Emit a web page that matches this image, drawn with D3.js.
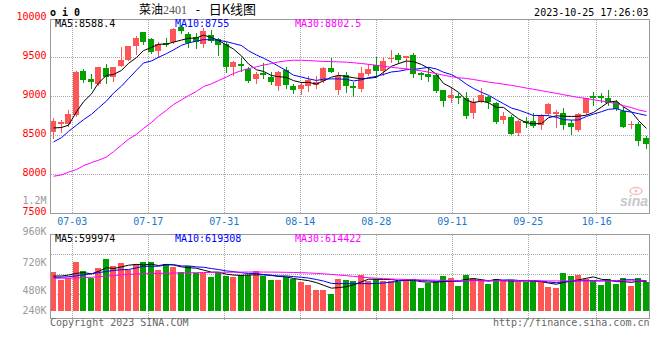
<!DOCTYPE html>
<html><head><meta charset="utf-8">
<script src="https://cdn.jsdelivr.net/npm/d3@7"></script>
<style>html,body{margin:0;padding:0;background:#fff}svg{display:block}</style>
</head><body>
<svg id="c" width="660" height="360"></svg>
<script>
const dates = ["06-28","06-29","06-30",
"07-03","07-04","07-05","07-06","07-07","07-10","07-11","07-12","07-13","07-14",
"07-17","07-18","07-19","07-20","07-21","07-24","07-25","07-26","07-27","07-28","07-31",
"08-01","08-02","08-03","08-04","08-07","08-08","08-09","08-10","08-11",
"08-14","08-15","08-16","08-17","08-18","08-21","08-22","08-23","08-24","08-25",
"08-28","08-29","08-30","08-31","09-01","09-04","09-05","09-06","09-07","09-08",
"09-11","09-12","09-13","09-14","09-15","09-18","09-19","09-20","09-21","09-22",
"09-25","09-26","09-27","09-28","10-09","10-10","10-11","10-12","10-13",
"10-16","10-17","10-18","10-19","10-20","10-23","10-24","10-25"];

const open = [8540,8641,8641,8761,9329,9222,9158,9359,9252,9393,
9470,9645,9821,9735,9585,9684,9692,9893,9799,9765,
9667,9786,9735,9675,9380,9415,9350,9222,9295,9252,
9132,9338,9132,9094,9132,9145,9197,9368,9081,9273,
9132,9094,9286,9402,9329,9474,9530,9496,9530,9295,
9286,9273,9081,8983,9008,8974,8790,8944,8996,8910,
8697,8735,8534,8688,8684,8632,8773,8778,8786,8662,
8568,8782,9004,9000,8983,8932,8812,8632,8650,8470];
const high = [8725,8697,8820,9325,9346,9282,9380,9410,9380,9632,
9648,9774,9825,9752,9700,9744,9870,9920,9829,9808,
9872,9850,9752,9700,9453,9496,9380,9308,9423,9308,
9320,9380,9154,9180,9265,9261,9380,9496,9316,9316,
9188,9380,9410,9509,9509,9594,9551,9520,9551,9316,
9380,9295,9085,9115,9038,9060,8983,9111,9004,8932,
8795,8761,8697,8739,8782,8769,8919,8825,8846,8697,
8790,8983,9060,9038,9081,8953,8867,8688,8667,8491];
const low = [8470,8538,8620,8745,9188,9111,9150,9167,9197,9390,
9465,9538,9667,9551,9500,9641,9680,9808,9637,9615,
9637,9690,9530,9316,9273,9325,9180,9167,9231,9154,
9081,9111,9047,9030,9068,9103,9184,9308,9030,9060,
9008,9068,9273,9265,9273,9444,9423,9359,9252,9218,
9197,9060,8880,8932,8919,8726,8718,8932,8855,8662,
8662,8513,8504,8611,8603,8581,8761,8611,8581,8521,
8556,8769,8889,8932,8889,8825,8605,8598,8376,8342];
const close = [8680,8675,8769,9316,9209,9188,9376,9252,9376,9470,
9641,9744,9701,9573,9675,9658,9863,9838,9680,9701,
9838,9710,9658,9380,9444,9393,9197,9286,9273,9188,
9316,9145,9085,9145,9210,9188,9368,9316,9265,9132,
9111,9295,9350,9325,9457,9496,9466,9517,9286,9273,
9252,9073,8940,9017,8974,8752,8923,9017,8923,8675,
8752,8521,8684,8662,8620,8761,8902,8803,8632,8611,
8773,8974,8974,8983,8919,8838,8611,8650,8432,8389];

const ma5 = [8594,8600,8630,8800,8930,9031,9172,9268,9280,9332,
9423,9497,9586,9626,9667,9670,9694,9721,9743,9748,
9784,9753,9717,9657,9606,9517,9414,9340,9319,9267,
9252,9242,9201,9176,9180,9155,9199,9245,9269,9254,
9238,9224,9231,9243,9308,9385,9419,9452,9444,9408,
9359,9280,9165,9111,9051,8951,8921,8937,8918,8858,
8858,8778,8711,8659,8648,8650,8726,8750,8744,8742,
8744,8759,8793,8863,8925,8938,8865,8800,8690,8588];
const ma10 = [8415,8470,8550,8630,8700,8770,8850,8940,9040,9131,
9227,9334,9427,9453,9500,9547,9595,9654,9684,9707,
9727,9724,9719,9700,9677,9651,9584,9529,9488,9437,
9385,9328,9271,9247,9224,9203,9220,9223,9223,9217,
9197,9212,9238,9256,9281,9312,9321,9341,9344,9358,
9372,9350,9309,9278,9229,9155,9101,9051,9014,8955,
8905,8849,8824,8788,8753,8754,8752,8730,8701,8695,
8697,8742,8771,8803,8833,8841,8812,8797,8777,8755];
const ma30 = [7975,7992,8027,8062,8110,8150,8180,8222,8290,8375,
8450,8512,8588,8665,8745,8822,8895,8955,9008,9063,
9125,9160,9202,9248,9292,9330,9355,9378,9400,9420,
9440,9455,9462,9462,9458,9452,9447,9444,9442,9437,
9430,9420,9410,9398,9385,9372,9362,9352,9340,9325,
9310,9290,9270,9252,9238,9228,9215,9198,9182,9168,
9155,9140,9125,9105,9090,9072,9055,9038,9020,9002,
8985,8972,8955,8940,8925,8905,8880,8855,8825,8803];

// volume in thousands
const volume = [797,632,680,1003,818,667,880,1065,921,983,
839,969,1003,1003,839,962,907,804,921,784,
770,694,804,715,694,735,735,818,715,632,
632,694,646,598,529,426,426,344,653,632,
612,735,612,653,612,612,598,653,653,467,
577,598,715,674,509,735,674,612,550,653,
612,632,591,591,591,591,488,467,777,715,
735,653,605,529,653,550,674,509,674,591];
const volMa5 = [715,715,735,770,786,760,810,887,870,903,
938,955,943,959,931,955,943,903,887,876,
837,795,795,753,735,728,737,739,739,727,
706,698,664,640,620,579,525,465,476,496,
533,595,649,649,645,645,617,626,626,597,
590,590,602,606,615,646,661,641,616,645,
620,612,608,616,603,599,570,546,583,608,
636,669,697,647,635,598,602,583,612,600];
const volMa10 = [690,690,700,720,740,760,785,810,830,845,
849,883,915,915,917,946,949,923,923,903,
896,869,849,820,806,783,766,767,746,731,
717,717,702,690,673,643,612,564,558,558,
556,560,557,562,571,589,606,637,637,621,
617,604,614,616,606,618,626,621,611,630,
633,637,624,616,624,610,591,577,599,606,
618,620,621,615,621,617,636,640,630,619];
const volMa30 = [668,670,672,676,682,690,700,712,725,738,
748,756,762,766,770,773,776,779,782,785,
787,789,791,793,795,796,797,797,797,796,
794,791,788,784,778,770,760,748,735,722,
708,694,680,670,661,653,647,642,638,635,
632,629,626,624,622,620,619,618,617,616,
615,615,614,614,614,614,614,614,614,614,
614,614,614,614,614,614,614,614,614,614];

const priceTicks = [10000, 9500, 9000, 8500, 8000, 7500];
const dateTicks = ["07-03","07-17","07-31","08-14","08-28","09-11","09-25","10-16"];
const volTickValues = [1200, 960, 720, 480, 240];
const volTickLabels = ["1.2M", "960K", "720K", "480K", "240K"];
const priceLegend = ["MA5:8588.4", "MA10:8755", "MA30:8802.5"];
const volLegend = ["MA5:599974", "MA10:619308", "MA30:614422"];

const MONO = "'DejaVu Sans Mono', 'Liberation Mono', monospace";
const RED = "#ff5555", GREEN = "#00a000", GRID = "#a8a8a8", BORDER = "#999";
const LEG_COLORS = ["#000000", "#0000ff", "#ff00ff"];

const svg = d3.select("#c");

const x = d3.scaleBand().domain(dates).range([49.5, 649.5]).paddingInner(0.2).paddingOuter(0.1);
const xTick = d3.scaleLinear().domain([0, dates.length]).range([49.5, 657.5]);
const y = d3.scaleLinear().domain([7500, 10000]).range([213.3, 18.3]);
const yv = d3.scaleLinear().domain([0, 1000]).range([310.7, 262.2]);
const yvLabel = d3.scaleLinear().domain([240, 480, 720, 960, 1200]).range([314, 294, 265.5, 234.5, 204]);
const yvGrid = d3.scaleLinear().domain([0, 4]).range([234.7, 314.7]);

const bw = Math.round(x.bandwidth());
const bx = d => Math.round(x(d));
const cx = d => Math.round(x(d)) + bw / 2;
const rows = dates.map((d, i) => ({d, i, o: open[i], h: high[i], l: low[i], c: close[i], v: volume[i]}));
const col = r => r.c >= r.o ? RED : GREEN;

// ---------- grids ----------
const grid = svg.append("g").attr("stroke", GRID).attr("stroke-dasharray", "1,1").attr("fill", "none");
dateTicks.forEach(t => {
  const gx = Math.floor(xTick(dates.indexOf(t))) + 0.5;
  grid.append("line").attr("x1", gx).attr("x2", gx).attr("y1", 20).attr("y2", 213);
  grid.append("line").attr("x1", gx).attr("x2", gx).attr("y1", 235).attr("y2", 320);
});
priceTicks.slice(1, -1).forEach(v => {
  const gy = Math.floor(y(v)) + 0.5;
  grid.append("line").attr("x1", 51).attr("x2", 649).attr("y1", gy).attr("y2", gy);
});
[1, 2, 3].forEach(k => {
  const gy = Math.floor(yvGrid(k)) + 0.5;
  grid.append("line").attr("x1", 51).attr("x2", 649).attr("y1", gy).attr("y2", gy);
});

// ---------- candles ----------
const cg = svg.append("g");
cg.selectAll("line.wick").data(rows).join("line")
  .attr("x1", r => cx(r.d) + 0.5).attr("x2", r => cx(r.d) + 0.5)
  .attr("y1", r => Math.round(y(r.h))).attr("y2", r => Math.round(y(r.l)) + 1)
  .attr("stroke", col).attr("stroke-width", 1);
cg.selectAll("rect.body").data(rows).join("rect")
  .attr("x", r => bx(r.d)).attr("width", bw)
  .attr("y", r => Math.round(y(Math.max(r.o, r.c))))
  .attr("height", r => Math.max(1, Math.round(y(Math.min(r.o, r.c))) - Math.round(y(Math.max(r.o, r.c)))))
  .attr("fill", col);

// ---------- price MAs ----------
const line = d3.line().x((v, i) => cx(dates[i]) + 0.5).y(v => y(v));
[ma5, ma10, ma30].forEach((arr, k) => {
  svg.append("path").attr("d", line(arr)).attr("fill", "none")
    .attr("stroke", LEG_COLORS[k]).attr("stroke-width", 1);
});

// ---------- volume ----------
const base = yv(0);
svg.append("g").selectAll("rect").data(rows).join("rect")
  .attr("x", r => bx(r.d)).attr("width", bw)
  .attr("y", r => Math.round(yv(r.v)))
  .attr("height", r => Math.round(base) - Math.round(yv(r.v)))
  .attr("fill", col);
const vline = d3.line().x((v, i) => cx(dates[i]) + 0.5).y(v => yv(v));
[volMa5, volMa10, volMa30].forEach((arr, k) => {
  svg.append("path").attr("d", vline(arr)).attr("fill", "none")
    .attr("stroke", LEG_COLORS[k]).attr("stroke-width", 1);
});

// ---------- borders ----------
svg.append("rect").attr("x", 50.5).attr("y", 19.5).attr("width", 599).attr("height", 194)
  .attr("fill", "none").attr("stroke", BORDER);
svg.append("rect").attr("x", 50.5).attr("y", 234.5).attr("width", 599).attr("height", 84)
  .attr("fill", "none").attr("stroke", BORDER);

// ---------- axis text ----------
const txt = svg.append("g").attr("font-family", MONO).attr("font-size", 10);
priceTicks.forEach(v => {
  txt.append("text").attr("x", 46.5).attr("y", y(v) + 2).attr("text-anchor", "end")
    .attr("fill", "#ff0000").text(v);
});
volTickValues.forEach((v, i) => {
  txt.append("text").attr("x", 46.5).attr("y", yvLabel(v)).attr("text-anchor", "end")
    .attr("fill", "#9a9a9a").text(volTickLabels[i]);
});
dateTicks.forEach(t => {
  txt.append("text").attr("x", xTick(dates.indexOf(t))).attr("y", 225.3).attr("text-anchor", "middle")
    .attr("fill", "#1a78c8").text(t);
});
const legX = [55, 175, 295];
priceLegend.forEach((s, k) => {
  txt.append("text").attr("x", legX[k]).attr("y", 27.3).attr("fill", LEG_COLORS[k]).text(s);
});
volLegend.forEach((s, k) => {
  txt.append("text").attr("x", legX[k]).attr("y", 241.7).attr("fill", LEG_COLORS[k]).text(s);
});

// ---------- header / footer ----------
txt.append("text").attr("x", 50).attr("y", 15.7).attr("font-weight", "bold").attr("fill", "#000").text("o i 0");
txt.append("text").attr("x", 648.5).attr("y", 15.7).attr("text-anchor", "end").attr("fill", "#000").text("2023-10-25 17:26:03");
txt.append("text").attr("x", 50).attr("y", 325.5).attr("fill", "#666").text("Copyright 2023 SINA.COM");
txt.append("text").attr("x", 649.5).attr("y", 325.5).attr("text-anchor", "end").attr("fill", "#666").text("http://finance.sina.com.cn");

const title = svg.append("text").attr("x", 139).attr("y", 14).attr("font-family", "'Noto Sans CJK SC', sans-serif").attr("font-size", 12).attr("fill", "#000");
title.append("tspan").text("菜油");
title.append("tspan").attr("font-family", "'Liberation Serif', serif").attr("fill", "#555").attr("font-size", 12).text("2401");
title.append("tspan").attr("font-family", MONO).text(" - ");
title.append("tspan").attr("font-size", 13).text("日K线图");

// sina watermark
const wm = svg.append("g").attr("opacity", 0.55);
wm.append("ellipse").attr("cx", 636).attr("cy", 191).attr("rx", 6).attr("ry", 3.5).attr("fill", "none").attr("stroke", "#f08c8c").attr("stroke-width", 1.5);
wm.append("circle").attr("cx", 636).attr("cy", 191).attr("r", 1.5).attr("fill", "#f08c8c");
wm.append("text").attr("x", 620).attr("y", 206).attr("font-family", "'Liberation Sans', sans-serif").attr("font-style", "italic").attr("font-weight", "bold").attr("font-size", 14).attr("fill", "#9a9a9a").text("sina");
</script>
</body></html>
